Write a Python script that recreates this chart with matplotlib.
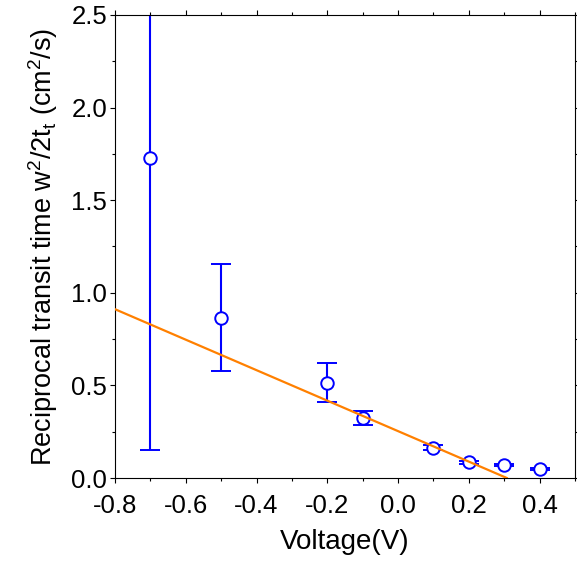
import matplotlib
matplotlib.use("Agg")
import matplotlib.pyplot as plt
import numpy as np
from matplotlib.ticker import MultipleLocator

plt.rcParams['font.family'] = ['Liberation Sans', 'DejaVu Sans']
plt.rcParams['mathtext.fontset'] = 'custom'
plt.rcParams['mathtext.rm'] = 'Liberation Sans'
plt.rcParams['mathtext.it'] = 'Liberation Sans'

voltage = [-0.7, -0.5, -0.2, -0.1, 0.1, 0.2, 0.3, 0.4]
recip = [1.73, 0.866, 0.515, 0.324, 0.164, 0.085, 0.070, 0.049]
err = [1.58, 0.29, 0.104, 0.04, 0.012, 0.008, 0.006, 0.005]

fit_x = [-0.8, 0.307]
fit_intercept = 0.253
fit_slope = -0.823

fig = plt.figure(figsize=(5.77, 5.63), dpi=100)
ax = fig.add_axes([115/577, 1-478/563, (575-115)/577, (478-15)/563])

fx = np.array(fit_x)
ax.plot(fx, fit_intercept + fit_slope*fx, color='#FF8000', lw=1.6, zorder=3)
ax.errorbar(voltage, recip, yerr=err, fmt='o', mfc='white', mec='#0000FF',
            ecolor='#0000FF', color='#0000FF', ms=9, mew=1.4, elinewidth=1.5,
            capsize=7.5, capthick=1.5, zorder=2)

ax.set_xlim(-0.8, 0.5)
ax.set_ylim(0, 2.5)
ax.xaxis.set_minor_locator(MultipleLocator(0.1))
ax.yaxis.set_major_locator(MultipleLocator(0.5))
ax.yaxis.set_minor_locator(MultipleLocator(0.25))
ax.set_xticks(np.arange(-0.8, 0.41, 0.2))
ax.set_xticklabels(['-0.8', '-0.6', '-0.4', '-0.2', '0.0', '0.2', '0.4'])
ax.tick_params(which='both', direction='out', top=True, right=True,
               labelsize=18.5, width=0.8, color='black')
ax.tick_params(axis='x', which='both', pad=8)
ax.tick_params(axis='y', which='both', pad=2)
ax.tick_params(which='major', length=3.5)
ax.tick_params(which='minor', length=2.5)
for s in ax.spines.values():
    s.set_linewidth(0.8)

ax.set_xlabel('Voltage(V)', fontsize=20, labelpad=8)
ax.set_ylabel(r'Reciprocal transit time w$\mathregular{^2}$/2t$\mathregular{_t}$ (cm$\mathregular{^2}$/s)',
              fontsize=19.5, labelpad=8)

fig.savefig('out.png', dpi=100)
